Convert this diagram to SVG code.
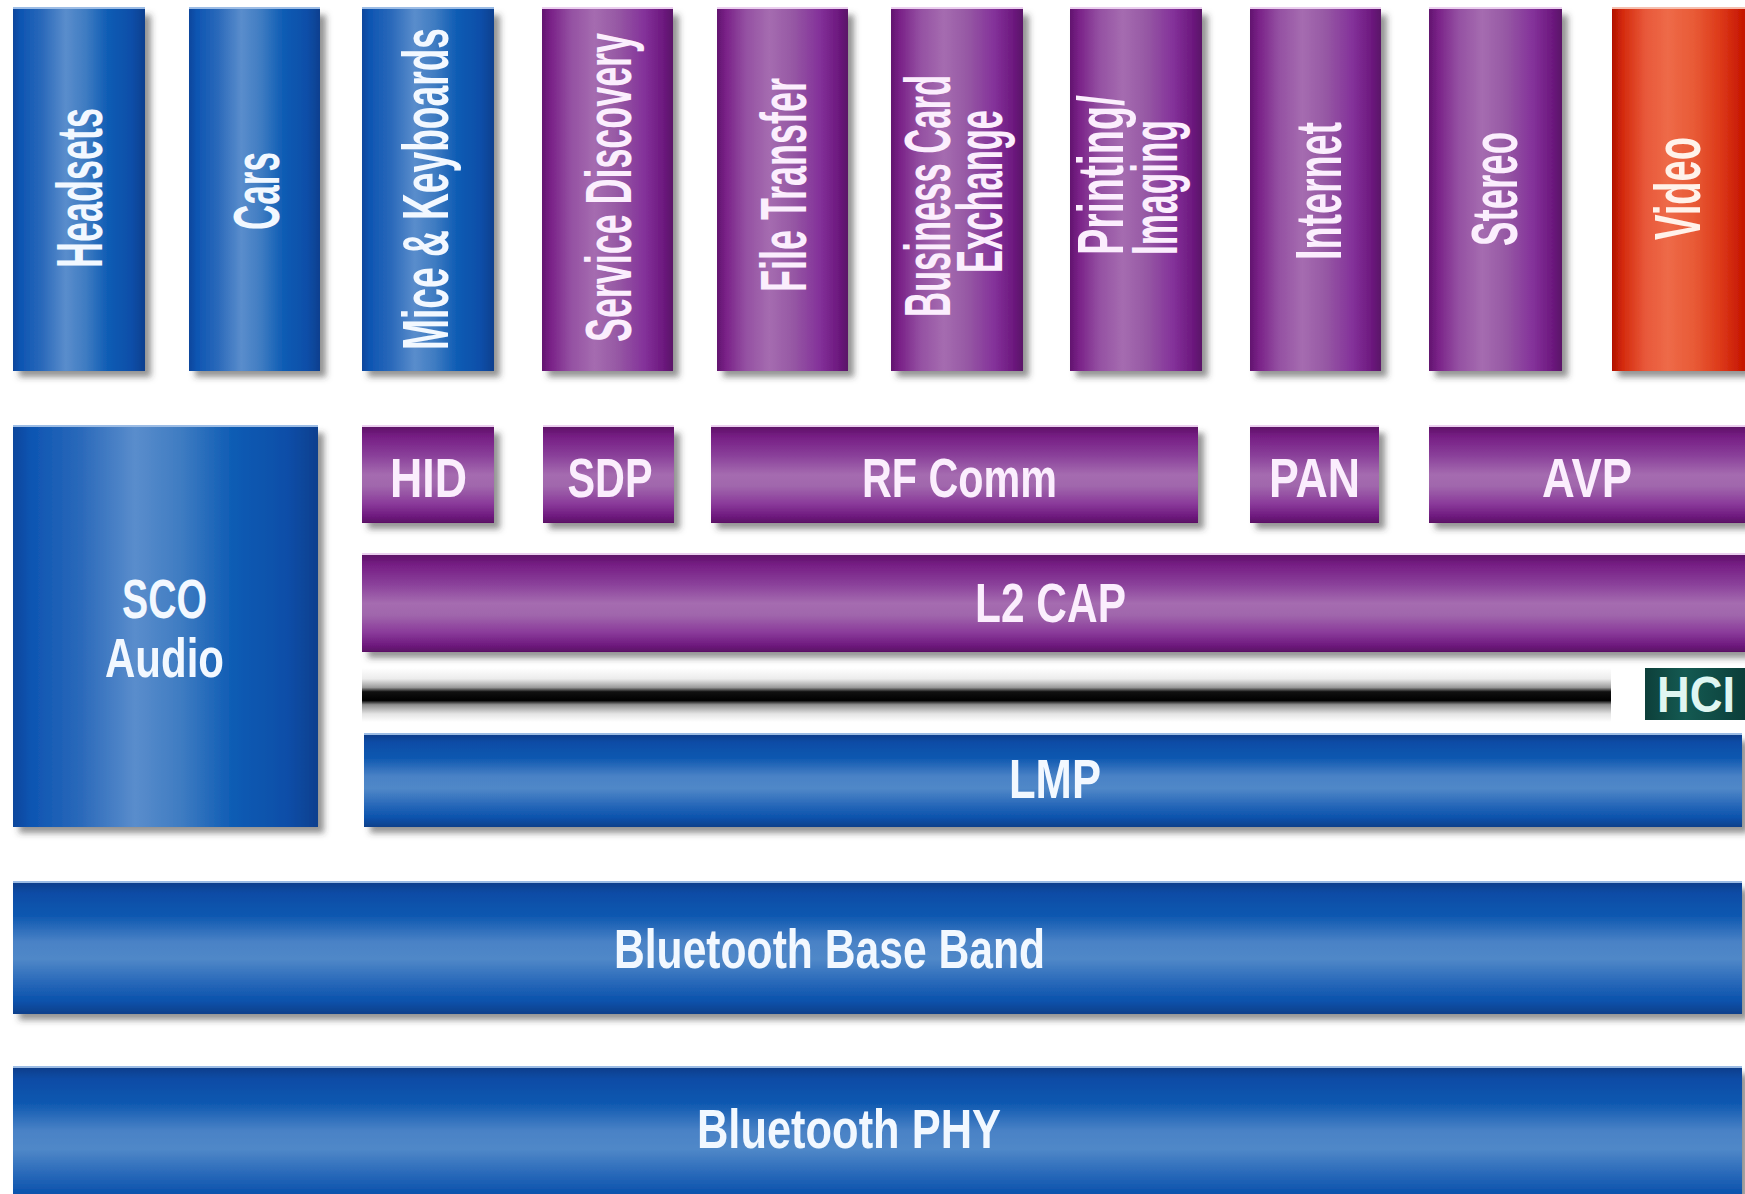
<svg xmlns="http://www.w3.org/2000/svg" width="1745" height="1194" viewBox="0 0 1745 1194">
<defs>
<style>
.t{font-family:"Liberation Sans",Arial,"DejaVu Sans",sans-serif;font-weight:bold;fill:#ffffff;text-anchor:middle}
.tv{font-size:64px}
.th{font-size:56px}
.tp{fill:#fbeefd}
.tb{fill:#f2f8ff}
.cb{fill:url(#gBlueV)}
.cp{fill:url(#gPurpleV)}
.cr{fill:url(#gRedV)}
.hb{fill:url(#gBlueH)}
.hp{fill:url(#gPurpleH)}
.lb{fill:#9dbde6}
.lp{fill:#ecd0f0}
.sh{filter:url(#shadow)}
</style>
<filter id="shadow" x="-10%" y="-10%" width="130%" height="130%">
<feDropShadow dx="6" dy="6" stdDeviation="3" flood-color="#3a3a3a" flood-opacity="0.55"/>
</filter>
<linearGradient id="gBlueV" x1="0" y1="0" x2="1" y2="0">
<stop offset="0" stop-color="#0a469c"/>
<stop offset="0.06" stop-color="#0d55b2"/>
<stop offset="0.22" stop-color="#2a69ba"/>
<stop offset="0.4" stop-color="#5a8dcc"/>
<stop offset="0.55" stop-color="#3f7cc2"/>
<stop offset="0.72" stop-color="#0e5cb4"/>
<stop offset="0.9" stop-color="#0a4ea8"/>
<stop offset="1" stop-color="#083f8e"/>
</linearGradient>
<linearGradient id="gPurpleV" x1="0" y1="0" x2="1" y2="0">
<stop offset="0" stop-color="#62146f"/>
<stop offset="0.07" stop-color="#7a2288"/>
<stop offset="0.22" stop-color="#9450a2"/>
<stop offset="0.4" stop-color="#a56cb0"/>
<stop offset="0.58" stop-color="#9658a4"/>
<stop offset="0.78" stop-color="#84329a"/>
<stop offset="0.92" stop-color="#6e1a80"/>
<stop offset="1" stop-color="#5a1268"/>
</linearGradient>
<linearGradient id="gRedV" x1="0" y1="0" x2="1" y2="0">
<stop offset="0" stop-color="#b01000"/>
<stop offset="0.08" stop-color="#d42a0c"/>
<stop offset="0.25" stop-color="#e8583a"/>
<stop offset="0.42" stop-color="#ee6a48"/>
<stop offset="0.62" stop-color="#e85a36"/>
<stop offset="0.82" stop-color="#dc3818"/>
<stop offset="1" stop-color="#c41400"/>
</linearGradient>
<linearGradient id="gBlueH" x1="0" y1="0" x2="0" y2="1">
<stop offset="0" stop-color="#0a3e8c"/>
<stop offset="0.08" stop-color="#0b4ca6"/>
<stop offset="0.25" stop-color="#0e58b0"/>
<stop offset="0.45" stop-color="#4a82c6"/>
<stop offset="0.58" stop-color="#5088c8"/>
<stop offset="0.75" stop-color="#2a6aba"/>
<stop offset="0.9" stop-color="#0a52ac"/>
<stop offset="1" stop-color="#083f8a"/>
</linearGradient>
<linearGradient id="gPurpleH" x1="0" y1="0" x2="0" y2="1">
<stop offset="0" stop-color="#5e1268"/>
<stop offset="0.1" stop-color="#761e84"/>
<stop offset="0.3" stop-color="#8a409a"/>
<stop offset="0.5" stop-color="#a56cb0"/>
<stop offset="0.62" stop-color="#a066ac"/>
<stop offset="0.8" stop-color="#8a3a9a"/>
<stop offset="0.93" stop-color="#6e1a7e"/>
<stop offset="1" stop-color="#5a1064"/>
</linearGradient>
<linearGradient id="gHci" x1="0" y1="0" x2="0" y2="1">
<stop offset="0" stop-color="#ffffff"/>
<stop offset="0.2" stop-color="#ececec"/>
<stop offset="0.36" stop-color="#9c9c9c"/>
<stop offset="0.44" stop-color="#101010"/>
<stop offset="0.6" stop-color="#000000"/>
<stop offset="0.68" stop-color="#8e8e8e"/>
<stop offset="0.85" stop-color="#e4e4e4"/>
<stop offset="1" stop-color="#ffffff"/>
</linearGradient>
<linearGradient id="gHciBox" x1="0" y1="0" x2="1" y2="0">
<stop offset="0" stop-color="#0d3f3a"/>
<stop offset="0.4" stop-color="#145a52"/>
<stop offset="1" stop-color="#0b3e39"/>
</linearGradient>
</defs>
<rect x="0" y="0" width="1745" height="1194" fill="#ffffff"/>

<g id="connectors">
<rect x="362" y="668" width="1249" height="54" fill="url(#gHci)"/>
</g>

<!-- top columns -->
<g id="headsets"><rect class="lb" x="13" y="7" width="132" height="2"/><rect class="cb sh" x="13" y="9" width="132" height="362"/><text class="t tv tb" transform="translate(102,188) rotate(-90)" textLength="160" lengthAdjust="spacingAndGlyphs">Headsets</text></g>
<g id="cars"><rect class="lb" x="189" y="7" width="131" height="2"/><rect class="cb sh" x="189" y="9" width="131" height="362"/><text class="t tv tb" transform="translate(279,191) rotate(-90)" textLength="78" lengthAdjust="spacingAndGlyphs">Cars</text></g>
<g id="mice"><rect class="lb" x="362" y="7" width="132" height="2"/><rect class="cb sh" x="362" y="9" width="132" height="362"/><text class="t tv tb" transform="translate(448,189) rotate(-90)" textLength="322" lengthAdjust="spacingAndGlyphs">Mice &amp; Keyboards</text></g>
<g id="service-discovery"><rect class="lp" x="542" y="7" width="131" height="2"/><rect class="cp sh" x="542" y="9" width="131" height="362"/><text class="t tv tp" transform="translate(631,187.5) rotate(-90)" textLength="309" lengthAdjust="spacingAndGlyphs">Service Discovery</text></g>
<g id="file-transfer"><rect class="lp" x="717" y="7" width="131" height="2"/><rect class="cp sh" x="717" y="9" width="131" height="362"/><text class="t tv tp" transform="translate(806,185) rotate(-90)" textLength="214" lengthAdjust="spacingAndGlyphs">File Transfer</text></g>
<g id="business-card"><rect class="lp" x="891" y="7" width="132" height="2"/><rect class="cp sh" x="891" y="9" width="132" height="362"/><text class="t tv tp" transform="translate(950,196) rotate(-90)" textLength="242" lengthAdjust="spacingAndGlyphs">Business Card</text><text class="t tv tp" transform="translate(1002,191.5) rotate(-90)" textLength="163" lengthAdjust="spacingAndGlyphs">Exchange</text></g>
<g id="printing"><rect class="lp" x="1070" y="7" width="132" height="2"/><rect class="cp sh" x="1070" y="9" width="132" height="362"/><text class="t tv tp" transform="translate(1123,175) rotate(-90)" textLength="160" lengthAdjust="spacingAndGlyphs">Printing/</text><text class="t tv tp" transform="translate(1177,187.5) rotate(-90)" textLength="135" lengthAdjust="spacingAndGlyphs">Imaging</text></g>
<g id="internet"><rect class="lp" x="1250" y="7" width="131" height="2"/><rect class="cp sh" x="1250" y="9" width="131" height="362"/><text class="t tv tp" transform="translate(1341,191) rotate(-90)" textLength="138" lengthAdjust="spacingAndGlyphs">Internet</text></g>
<g id="stereo"><rect class="lp" x="1429" y="7" width="133" height="2"/><rect class="cp sh" x="1429" y="9" width="133" height="362"/><text class="t tv tp" transform="translate(1517,189) rotate(-90)" textLength="114" lengthAdjust="spacingAndGlyphs">Stereo</text></g>
<g id="video"><rect x="1612" y="7" width="133" height="2" fill="#f6c0b0"/><rect class="cr sh" x="1612" y="9" width="133" height="362"/><text class="t tv" fill="#fff4ec" style="fill:#fff2ea" transform="translate(1700,188.5) rotate(-90)" textLength="103" lengthAdjust="spacingAndGlyphs">Video</text></g>

<!-- middle -->
<g id="sco-audio"><rect class="lb" x="13" y="425" width="305" height="2"/><rect class="cb sh" x="13" y="427" width="305" height="400"/><text class="t th tb" x="164.5" y="618" textLength="85" lengthAdjust="spacingAndGlyphs">SCO</text><text class="t th tb" x="164.5" y="677" textLength="119" lengthAdjust="spacingAndGlyphs">Audio</text></g>
<g id="hid"><rect class="lp" x="362" y="425" width="132" height="2"/><rect class="hp sh" x="362" y="427" width="132" height="96"/><text class="t th tp" x="428.5" y="497" textLength="77" lengthAdjust="spacingAndGlyphs">HID</text></g>
<g id="sdp"><rect class="lp" x="543" y="425" width="131" height="2"/><rect class="hp sh" x="543" y="427" width="131" height="96"/><text class="t th tp" x="610" y="497" textLength="85" lengthAdjust="spacingAndGlyphs">SDP</text></g>
<g id="rf-comm"><rect class="lp" x="711" y="425" width="487" height="2"/><rect class="hp sh" x="711" y="427" width="487" height="96"/><text class="t th tp" x="959.5" y="497" textLength="195" lengthAdjust="spacingAndGlyphs">RF Comm</text></g>
<g id="pan"><rect class="lp" x="1250" y="425" width="129" height="2"/><rect class="hp sh" x="1250" y="427" width="129" height="96"/><text class="t th tp" x="1314.5" y="497" textLength="91" lengthAdjust="spacingAndGlyphs">PAN</text></g>
<g id="avp"><rect class="lp" x="1429" y="425" width="316" height="2"/><rect class="hp sh" x="1429" y="427" width="316" height="96"/><text class="t th tp" x="1587" y="497" textLength="90" lengthAdjust="spacingAndGlyphs">AVP</text></g>
<g id="l2cap"><rect class="lp" x="362" y="553" width="1383" height="2"/><rect class="hp sh" x="362" y="555" width="1383" height="97"/><text class="t th tp" x="1050.5" y="622" textLength="151" lengthAdjust="spacingAndGlyphs">L2 CAP</text></g>
<g id="hci"><rect x="1645" y="668" width="100" height="52" fill="url(#gHciBox)"/><text class="t" x="1696" y="712" font-size="50" style="fill:#dff6f2" textLength="78" lengthAdjust="spacingAndGlyphs">HCI</text></g>
<g id="lmp"><rect class="lb" x="364" y="733" width="1378" height="2"/><rect class="hb sh" x="364" y="735" width="1378" height="92"/><text class="t th tb" x="1055" y="798" textLength="92" lengthAdjust="spacingAndGlyphs">LMP</text></g>

<!-- bottom -->
<g id="baseband"><rect class="lb" x="13" y="881" width="1729" height="3"/><rect class="hb sh" x="13" y="883" width="1729" height="131"/><text class="t th tb" x="829.5" y="968" textLength="431" lengthAdjust="spacingAndGlyphs">Bluetooth Base Band</text></g>
<g id="phy"><rect class="lb" x="13" y="1066" width="1729" height="3"/><rect class="hb sh" x="13" y="1068" width="1729" height="140"/><text class="t th tb" x="849" y="1148" textLength="304" lengthAdjust="spacingAndGlyphs">Bluetooth PHY</text></g>
</svg>
